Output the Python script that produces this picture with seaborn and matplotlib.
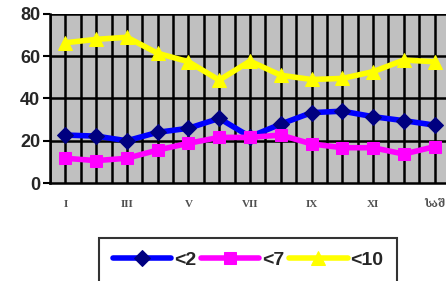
import matplotlib
matplotlib.use("Agg")
import matplotlib.pyplot as plt
import seaborn as sns
import pandas as pd
import numpy as np

categories = ["I", "II", "III", "IV", "V", "VI", "VII", "VIII", "IX", "X", "XI", "XII", "საშ"]
s_lt2 = [22.7, 22.2, 20.0, 24.0, 25.9, 30.6, 21.9, 27.9, 33.3, 34.0, 31.4, 29.5, 27.4]
s_lt7 = [11.7, 10.6, 11.7, 15.6, 18.8, 21.6, 21.6, 22.7, 18.5, 16.7, 16.7, 13.7, 17.2]
s_lt10 = [66.4, 68.0, 69.0, 61.4, 57.4, 48.7, 57.7, 51.0, 49.0, 49.5, 52.7, 58.2, 57.4]
series_names = ["<2", "<7", "<10"]
y_ticks = [0, 20, 40, 60, 80]

sns.set_style("white")
plt.rcParams['font.family'] = ['Liberation Sans', 'DejaVu Sans']

fig = plt.figure(figsize=(4.46, 2.81), dpi=100)
ax = fig.add_axes([50/446, 98/281, 400/446, 169/281])
ax.set_facecolor("#C0C0C0")

x = np.arange(len(categories))
styles = [
    dict(color="#0000FF", marker="D", mfc="#000080", mec="#000080", ms=8),
    dict(color="#FF00FF", marker="s", mfc="#FF00FF", mec="#FF00FF", ms=8),
    dict(color="#FFFF00", marker="^", mfc="#FFFF00", mec="#FFFF00", ms=10),
]
for name, vals, st in zip(series_names, [s_lt2, s_lt7, s_lt10], styles):
    df = pd.DataFrame({"x": x, "y": vals})
    sns.lineplot(data=df, x="x", y="y", ax=ax, color=st["color"], lw=4,
                 marker=st["marker"], markerfacecolor=st["mfc"],
                 markeredgecolor=st["mec"], markersize=st["ms"], label=name,
                 legend=False, zorder=5)

ax.set_xlim(-0.5, 12.5)
ax.set_ylim(0, 80)
for v in y_ticks[1:]:
    ax.axhline(v, color="black", lw=1.8, zorder=1)
for gx in np.arange(-0.5, 12.6, 0.5):
    ax.axvline(gx, color="black", lw=1.8, zorder=1)

ax.set_yticks(y_ticks)
ax.set_yticklabels([str(t) for t in y_ticks], fontsize=13, fontweight="bold")
ax.set_xticks(x[::2])
ax.set_xticklabels(categories[::2], fontsize=8, fontweight="bold", color="#505050",
                   family=['Liberation Serif', 'DejaVu Serif'])
ax.set_xticks(np.arange(-0.5, 12.6, 1), minor=True)
ax.tick_params(axis="x", which="major", length=0, pad=12)
ax.tick_params(axis="x", which="minor", length=4, width=1.5, color="black", direction="out")
ax.tick_params(axis="y", length=5, width=1.5, color="black", direction="out", left=True, pad=2)
ax.set_xlabel("")
ax.set_ylabel("")
for side in ["top", "right"]:
    ax.spines[side].set_visible(False)
ax.spines["left"].set_color("black")
ax.spines["left"].set_linewidth(1.8)
ax.spines["bottom"].set_color("black")
ax.spines["bottom"].set_linewidth(1.8)

handles, labels = ax.get_legend_handles_labels()
leg = fig.legend(handles, labels, loc="upper center", bbox_to_anchor=(248/446, 1 - 238/281),
                 ncol=3, frameon=True, fancybox=False, edgecolor="black",
                 prop=dict(size=14, weight="bold"), handlelength=3.0,
                 columnspacing=0.25, handletextpad=0.15, borderpad=0.7, borderaxespad=0)
leg.get_frame().set_linewidth(1.5)

fig.savefig("out.png", dpi=100)
